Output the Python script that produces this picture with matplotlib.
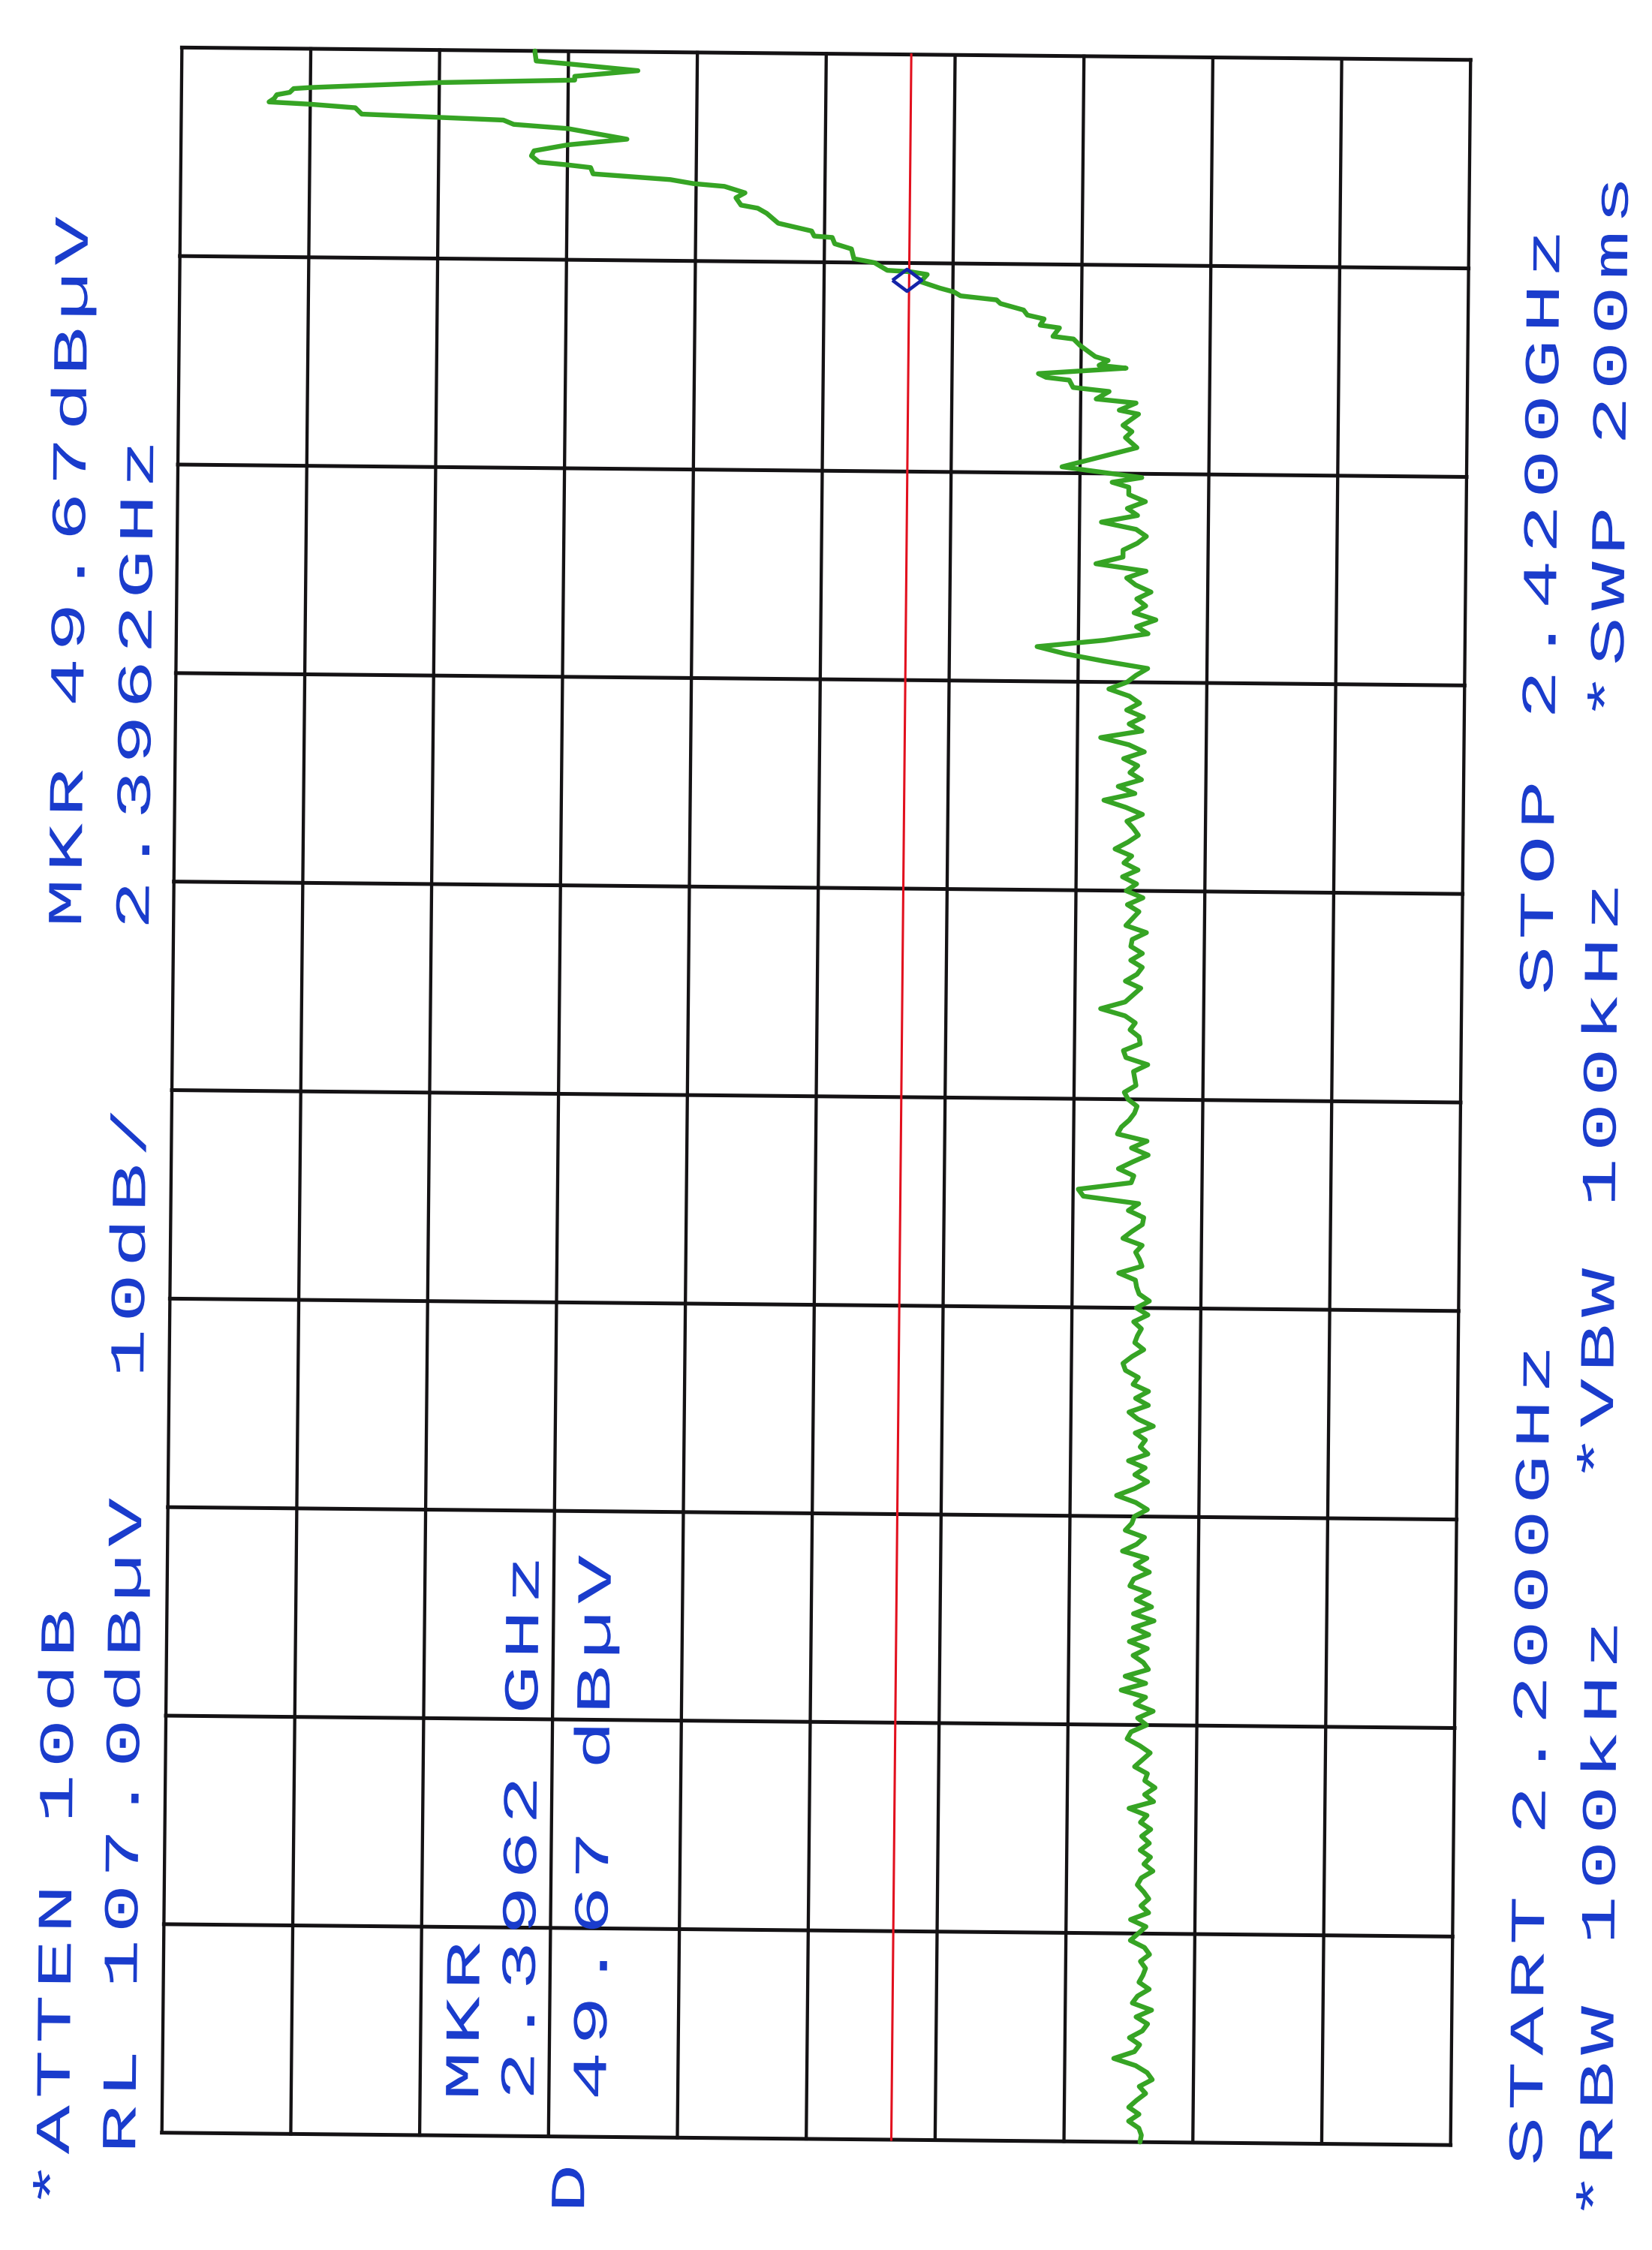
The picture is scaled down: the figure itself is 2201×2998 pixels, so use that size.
import numpy as np
import matplotlib
matplotlib.use("Agg")
import matplotlib.pyplot as plt
import matplotlib.patheffects as pe
from matplotlib.transforms import Affine2D
from matplotlib.path import Path
from matplotlib.textpath import TextPath
from matplotlib.font_manager import FontProperties

# ---------------- data ----------------
ref_level_dbuv = 107.0
db_per_div = 10.0
start_ghz = 2.2000
stop_ghz = 2.4200

# Trace: high-frequency part (explicit points, GHz / dBuV)
sweep_freq_ghz = [2.42000, 2.41987, 2.41894, 2.41868, 2.41802, 2.41736, 2.41696,
                  2.41657, 2.41591, 2.41578, 2.41538, 2.41512, 2.41472, 2.41435,
                  2.41415, 2.41382, 2.41316, 2.41289, 2.41267, 2.41223, 2.41184,
                  2.41078, 2.41012, 2.40946, 2.40893, 2.40827, 2.40801, 2.40775,
                  2.40709, 2.40656, 2.40616, 2.40590, 2.40524, 2.40471, 2.40394,
                  2.40363, 2.40310, 2.40207, 2.40128, 2.40075, 2.40062, 2.39996,
                  2.39943, 2.39840, 2.39800, 2.39721, 2.39708, 2.39681, 2.39604,
                  2.39538, 2.39499, 2.39459, 2.39420, 2.39382, 2.39316, 2.39263,
                  2.39224, 2.39158, 2.39131, 2.39041, 2.39015, 2.38949, 2.38832,
                  2.38792, 2.38740, 2.38713, 2.38647, 2.38608, 2.38581, 2.38504,
                  2.38465, 2.38385, 2.38346, 2.38269, 2.38229, 2.38110, 2.38044,
                  2.37981, 2.37875, 2.37666, 2.37626, 2.37560, 2.37508, 2.37457]
sweep_level_dbuv = [79.6, 79.6, 79.5, 77.1, 71.6, 76.5, 76.5, 86.9, 97.0, 98.3,
                    98.6, 99.6, 99.8, 100.2, 97.0, 93.5, 93.0, 86.9, 82.0, 81.2,
                    77.0, 72.4, 77.0, 79.6, 79.8, 79.2, 77.0, 75.2, 75.0, 69.0,
                    67.2, 64.8, 63.2, 63.9, 63.5, 62.2, 61.5, 60.6, 58.0, 57.8,
                    56.4, 56.2, 54.9, 54.7, 53.1, 52.1, 50.3, 49.0, 49.5, 48.0,
                    46.9, 46.4, 43.6, 43.3, 41.5, 41.2, 39.9, 40.2, 38.7, 39.2,
                    37.6, 37.1, 35.9, 34.9, 35.6, 33.5, 40.3, 39.7, 37.9, 37.6,
                    34.8, 35.8, 32.7, 34.0, 32.5, 33.7, 33.0, 33.5, 32.6, 38.4,
                    36.1, 32.2, 34.5, 33.2]

# Trace: noise-floor part, evenly spaced sweep points from 2.3738 GHz down to 2.2 GHz
noise_first_ghz = 2.3738
noise_level_dbuv = [
    33.2, 31.9, 33.3, 32.5, 35.3, 32.6, 31.8, 32.5, 33.6, 33.6, 35.7, 31.8, 33.3, 32.6, 31.4,
    32.5, 31.8, 32.7, 31.0, 32.5, 31.6, 35.0, 40.2, 38.0, 35.0, 31.6, 32.5, 33.2, 34.6, 33.0,
    32.2, 33.2, 31.9, 33.0, 32.0, 35.2, 33.0, 31.8, 33.4, 32.3, 32.9, 32.0, 33.8, 32.5, 34.9,
    33.2, 31.9, 33.1, 32.6, 32.2, 33.0, 34.0, 32.7, 33.3, 32.2, 33.4, 32.3, 33.1, 31.8, 33.0,
    32.1, 32.6, 33.1, 31.5, 32.6, 32.7, 31.8, 32.7, 31.8, 32.2, 33.1, 31.9, 32.5, 33.1, 35.0,
    33.1, 32.3, 32.7, 32.0, 31.9, 33.2, 33.0, 31.3, 32.4, 32.3, 32.2, 33.1, 32.8, 32.1, 32.3,
    32.7, 33.3, 33.6, 31.3, 32.5, 31.2, 32.4, 33.5, 32.3, 32.5, 36.6, 36.2, 31.9, 32.7, 31.5,
    31.6, 32.4, 33.1, 31.6, 32.1, 31.8, 31.6, 33.4, 32.1, 32.0, 31.8, 31.0, 32.0, 31.1, 32.2,
    31.6, 31.9, 32.1, 31.4, 32.3, 33.0, 32.8, 31.8, 32.2, 31.0, 32.0, 31.0, 32.5, 31.8, 30.6,
    32.0, 31.2, 31.6, 31.0, 32.5, 31.2, 32.0, 31.0, 32.0, 33.4, 31.9, 31.0, 32.0, 32.2, 32.7,
    31.2, 31.8, 32.9, 31.0, 31.9, 30.8, 32.0, 32.3, 30.8, 31.8, 30.6, 32.0, 30.4, 32.0, 30.8,
    32.3, 30.9, 32.0, 31.2, 30.8, 32.6, 31.0, 32.9, 31.0, 31.8, 30.4, 31.6, 30.9, 32.1, 32.4,
    31.4, 30.6, 31.2, 31.8, 30.8, 31.0, 30.2, 31.0, 30.3, 32.2, 30.8, 31.3, 30.5, 31.2, 30.6,
    31.3, 30.5, 31.0, 30.3, 31.2, 31.5, 31.0, 30.6, 31.2, 30.6, 32.0, 30.8, 31.4, 32.0, 30.9,
    30.5, 31.2, 30.8, 31.0, 31.3, 30.5, 31.4, 31.8, 30.3, 31.5, 30.6, 31.0, 32.0, 31.2, 31.6,
    33.2, 31.5, 30.6, 30.2, 31.2, 30.7, 31.4, 32.0, 31.2, 32.0, 31.2, 31.0, 31.1]

# Marker and display line
marker_freq_ghz = 2.3962
marker_level_dbuv = 50.6
display_line_dbuv = 50.4

# Annotation texts (as printed by the analyzer)
labels = ["*ATTEN 10dB", "MKR 49.67dBµV", "RL 107.0dBµV", "10dB/", "2.3962GHz",
          "MKR", "2.3962 GHz", "49.67 dBµV", "D",
          "START 2.2000GHz", "STOP 2.4200GHz", "*RBW 100kHz", "*VBW 100kHz",
          "*SWP 200ms"]

# ---------------- layout ----------------
W, H = 2201, 2998
DPI = 100
# baseline x (px) and start y (px, bottom of the rotated string) for each label
label_pos = [(91, 2948), (108, 1240), (180, 2874), (191, 1840), (198, 1243),
             (637, 2803), (711, 2803), (807, 2803), (778, 2953),
             (2054, 2890), (2068, 1330), (2147, 2963), (2148, 1980),
             (2162, 965)]
CHAR_PITCH_PX = 73.5     # plotter character cell
CAP_PX = 43.0            # plotter cap height
GLYPH_W_PX = 48.0        # plotter glyph width ("N")
PAGE_TILT_DEG = -0.55    # the printout is slightly rotated on the page

BLUE = "#1a3ccc"
GREEN = "#36a424"
RED = "#e2101e"
GRID = "#141214"
MARKER_BLUE = "#1424a8"

FAMILY = ["Liberation Mono", "DejaVu Sans Mono"]
_fp = FontProperties(family=FAMILY, size=100)
cap_u = TextPath((0, 0), "H", size=100, prop=_fp).get_extents().height
n_ext = TextPath((0, 0), "N", size=100, prop=_fp).get_extents()
adv_u = TextPath((0, 0), "NN", size=100, prop=_fp).get_extents().x1 - n_ext.x1
em_px = CAP_PX / (cap_u / 100.0)
FONT_PT = em_px * 72.0 / DPI
pitch_u = CHAR_PITCH_PX / (em_px / 100.0)
glyph_gx = GLYPH_W_PX / (n_ext.width * em_px / 100.0)


class PlotterCells(pe.AbstractPathEffect):
    """Lay out each glyph of a monospaced string in a wide plotter cell."""

    def __init__(self, adv, pitch, gx):
        super().__init__()
        self.adv, self.pitch, self.gx = adv, pitch, gx

    def draw_path(self, renderer, gc, tpath, affine, rgbFace=None):
        verts = np.array(tpath.vertices, dtype=float).copy()
        codes = tpath.codes
        if codes is not None and len(verts):
            codes = np.asarray(codes)
            starts = np.flatnonzero(codes == Path.MOVETO)
            ends = np.append(starts[1:], len(codes))
            for s, e in zip(starts, ends):
                m = codes[s:e] != Path.CLOSEPOLY
                cx = verts[s:e][m, 0].mean()
                i = np.floor(cx / self.adv)
                c_old = (i + 0.5) * self.adv
                c_new = (i + 0.5) * self.pitch
                verts[s:e, 0] = c_new + (verts[s:e, 0] - c_old) * self.gx
            tpath = Path(verts, codes)
        renderer.draw_path(gc, tpath, affine, rgbFace)


fig = plt.figure(figsize=(W / DPI, H / DPI), dpi=DPI)
fig.patch.set_facecolor("white")

ax_l, ax_r, ax_t, ax_b = 229, 1946, 71.5, 2850
ax = fig.add_axes([ax_l / W, 1 - ax_b / H, (ax_r - ax_l) / W, (ax_b - ax_t) / H])
ax.set_xlim(ref_level_dbuv, ref_level_dbuv - 10 * db_per_div)
ax.set_ylim(start_ghz, stop_ghz)
ax.axis("off")

# tilt of the printout around the centre of the graticule (display pixels)
cx_disp = (ax_l + ax_r) / 2.0
cy_disp = H - (ax_t + ax_b) / 2.0
T = ax.transData + Affine2D().rotate_deg_around(cx_disp, cy_disp, PAGE_TILT_DEG)

# graticule
amp_lines = ref_level_dbuv - db_per_div * np.arange(11)
freq_lines = np.linspace(start_ghz, stop_ghz, 11)
for a in amp_lines:
    ax.plot([a, a], [start_ghz, stop_ghz], color=GRID, lw=3.1, transform=T,
            clip_on=False, solid_capstyle="projecting", zorder=2)
for f in freq_lines:
    ax.plot([amp_lines[0], amp_lines[-1]], [f, f], color=GRID, lw=3.6, transform=T,
            clip_on=False, solid_capstyle="projecting", zorder=2)

# display line
ax.plot([display_line_dbuv, display_line_dbuv], [start_ghz, stop_ghz], color=RED,
        lw=2.2, transform=T, clip_on=False, zorder=3)

# trace
noise_freq_ghz = np.linspace(noise_first_ghz, start_ghz, len(noise_level_dbuv))
trace_f = np.concatenate([np.array(sweep_freq_ghz), noise_freq_ghz])
trace_l = np.concatenate([np.array(sweep_level_dbuv), np.array(noise_level_dbuv)])
ax.plot(trace_l, trace_f, color=GREEN, lw=4.6, solid_joinstyle="round",
        solid_capstyle="round", transform=T, clip_on=False, zorder=4)

# marker (diamond, wider than tall)
diamond = [(-1, 0), (0, 0.75), (1, 0), (0, -0.75), (-1, 0)]
ax.plot([marker_level_dbuv], [marker_freq_ghz], marker=diamond, ms=28,
        mfc="none", mec=MARKER_BLUE, mew=3.3, linestyle="none",
        transform=T, clip_on=False, zorder=5)

# annotation text, rotated like the analyzer printout
cells = PlotterCells(adv_u, pitch_u, glyph_gx)
for text, (bx, sy) in zip(labels, label_pos):
    fig.text(bx / W, 1 - sy / H, text, rotation=90 + PAGE_TILT_DEG,
             rotation_mode="anchor", ha="left", va="baseline", color=BLUE,
             fontsize=FONT_PT, family=FAMILY, path_effects=[cells])

fig.savefig("out.png", dpi=DPI, facecolor="white")
